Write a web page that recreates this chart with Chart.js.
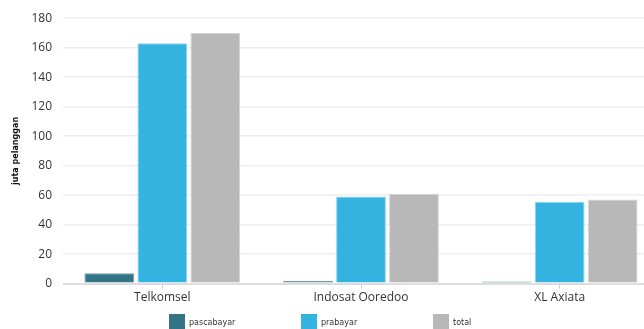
<!DOCTYPE html>
<html>
<head>
<meta charset="utf-8">
<script src="https://cdn.jsdelivr.net/npm/chart.js@4.4.1/dist/chart.umd.min.js"></script>
<style>
  html, body { margin: 0; padding: 0; background: #fff; overflow: hidden; }
  #wrap { position: relative; width: 660px; height: 329px; overflow: hidden; }
</style>
</head>
<body>
<div id="wrap"><canvas id="c" width="660" height="329"></canvas></div>
<script>
const categories = ['Telkomsel', 'Indosat Ooredoo', 'XL Axiata'];
const pascabayar = [7, 2, 1.5];
const prabayar = [163, 59, 55.5];
const total = [170, 61, 57];
const seriesNames = ['pascabayar', 'prabayar', 'total'];
const yTicks = [0, 20, 40, 60, 80, 100, 120, 140, 160, 180];
const yTitle = 'juta pelanggan';

const fills = ['#347487', '#33b3e0', '#b8b8b9'];
const edges = ['#6797a5', '#8fd6f0', '#d4d4d5'];

const customLegend = {
  id: 'customLegend',
  afterDraw(chart) {
    const ctx = chart.ctx;
    ctx.save();
    const startX = 169, step = 132, boxY = 314, box = 16;
    chart.data.datasets.forEach((ds, i) => {
      const x = startX + i * step;
      ctx.fillStyle = ds.backgroundColor;
      ctx.fillRect(x, boxY, box, box);
      ctx.fillStyle = '#333';
      ctx.font = '8px "DejaVu Sans"';
      ctx.textBaseline = 'middle';
      ctx.textAlign = 'left';
      ctx.fillText(ds.label, x + box + 4, boxY + 9);
    });
    ctx.restore();
  }
};

new Chart(document.getElementById('c'), {
  type: 'bar',
  data: {
    labels: categories,
    datasets: [
      { label: seriesNames[0], data: pascabayar, backgroundColor: fills[0], borderColor: edges[0], borderWidth: 1 },
      { label: seriesNames[1], data: prabayar, backgroundColor: fills[1], borderColor: edges[1], borderWidth: 1 },
      { label: seriesNames[2], data: total, backgroundColor: fills[2], borderColor: edges[2], borderWidth: 1 }
    ]
  },
  options: {
    responsive: false,
    animation: false,
    devicePixelRatio: 1,
    datasets: { bar: { categoryPercentage: 0.8, barPercentage: 0.94 } },
    layout: { padding: { top: 13, right: 1, bottom: 22, left: 0 } },
    plugins: {
      legend: { display: false },
      tooltip: { enabled: false },
      title: { display: false }
    },
    scales: {
      x: {
        grid: { display: true, drawOnChartArea: false, drawTicks: true, tickLength: 5, offset: false, color: '#cccccc' },
        border: { display: false },
        ticks: { color: '#333', padding: 2, maxRotation: 0, font: { family: '"Open Sans"', size: 12 } }
      },
      y: {
        min: 0, max: 180,
        afterFit(scale) { scale.width = 63; },
        afterBuildTicks(scale) { scale.ticks = yTicks.map(v => ({ value: v })); },
        grid: {
          drawTicks: false,
          color: ctx => ctx.tick && ctx.tick.value === 0 ? '#dddddd' : '#eeeeee',
          lineWidth: ctx => ctx.tick && ctx.tick.value === 0 ? 2 : 1.5
        },
        border: { display: false },
        ticks: { color: '#333', padding: 11, autoSkip: false, font: { family: '"Open Sans"', size: 12 } },
        title: {
          display: true, text: yTitle, color: '#111',
          font: { family: '"DejaVu Sans"', size: 8, weight: 'bold' },
          padding: { top: 11, bottom: 0 }
        }
      }
    }
  },
  plugins: [customLegend]
});
</script>
</body>
</html>
